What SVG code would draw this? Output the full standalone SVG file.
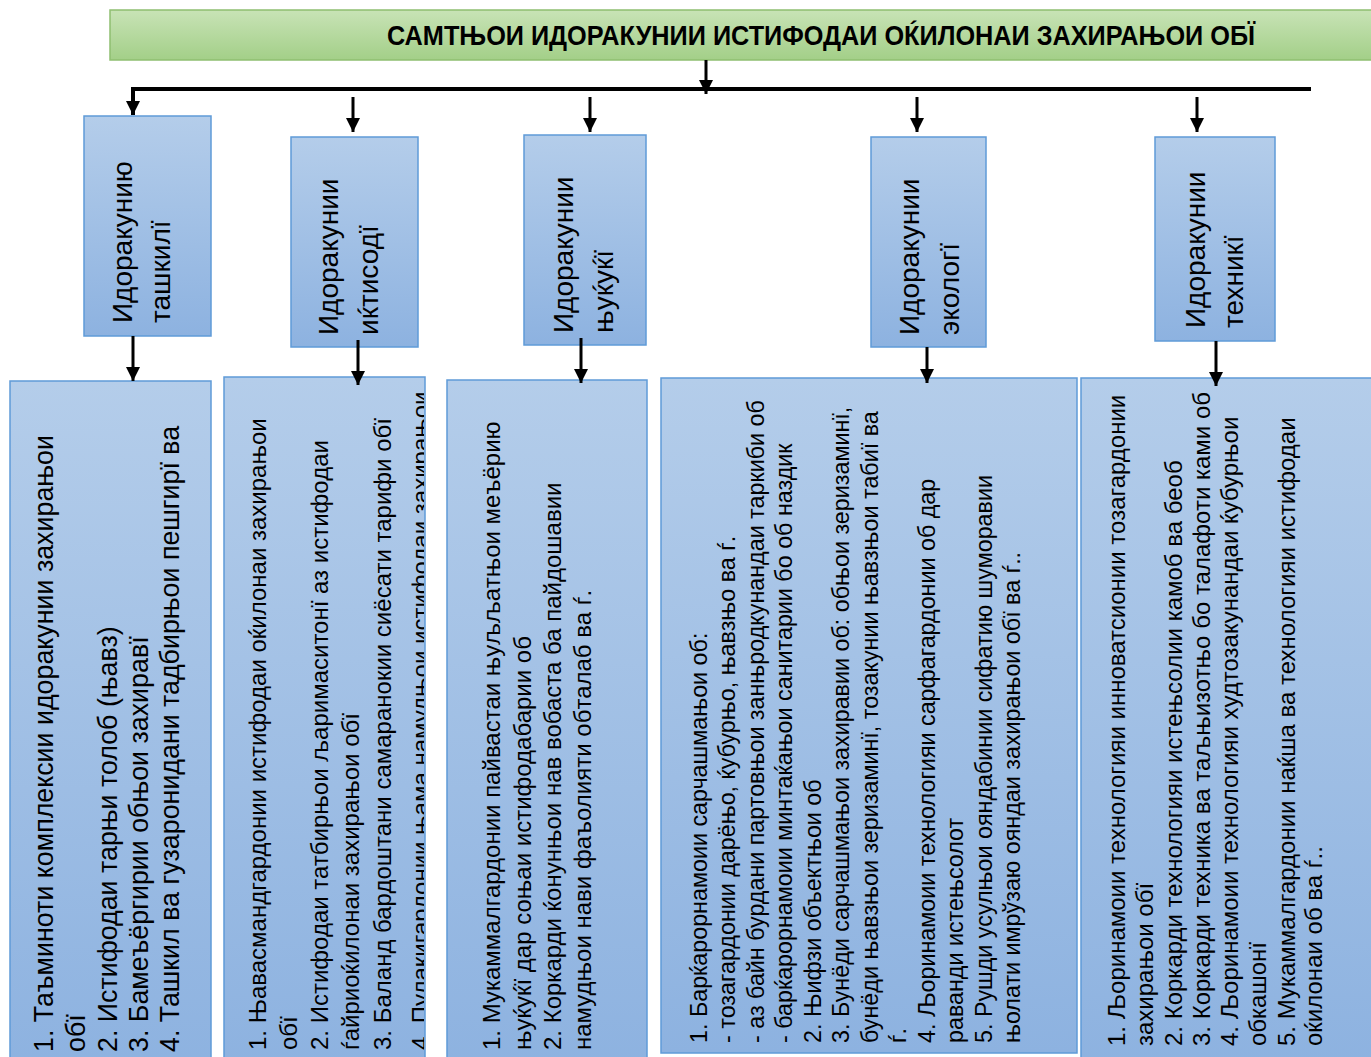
<svg xmlns="http://www.w3.org/2000/svg" width="1371" height="1057" viewBox="0 0 1371 1057">
<defs>
<linearGradient id="gBlue" x1="0" y1="0" x2="0" y2="1">
<stop offset="0" stop-color="#b4cdea"/>
<stop offset="1" stop-color="#8db2e0"/>
</linearGradient>
<linearGradient id="gGreen" x1="0" y1="0" x2="0" y2="1">
<stop offset="0" stop-color="#c8e3b6"/>
<stop offset="1" stop-color="#a3cf88"/>
</linearGradient>
<marker id="ah" viewBox="0 0 10 10" refX="10" refY="5" markerUnits="userSpaceOnUse" markerWidth="15" markerHeight="14" orient="auto">
<path d="M0,0 L10,5 L0,10 z" fill="#000"/>
</marker>
<clipPath id="clipB2"><rect x="224" y="377" width="200" height="690"/></clipPath>
</defs>
<style>
.box{fill:url(#gBlue);stroke:#5f9bd8;stroke-width:1.5}
.cat{font-family:"Liberation Sans",Arial,sans-serif;font-size:28px;fill:#000}
.txt{font-family:"Liberation Sans",Arial,sans-serif;font-size:24px;fill:#000}
.t1{font-size:26.8px}
.t4{font-size:23.3px}
.conn{stroke:#000;stroke-width:3;fill:none}
</style>
<rect width="1371" height="1057" fill="#fff"/>

<g id="title">
<rect x="110" y="10" width="1270" height="50" fill="url(#gGreen)" stroke="#8fbf70" stroke-width="1.5"/>
<text x="387" y="45" font-family="Liberation Sans,Arial,sans-serif" font-weight="bold" font-size="27" textLength="868" lengthAdjust="spacingAndGlyphs">САМТЊОИ ИДОРАКУНИИ ИСТИФОДАИ ОЌИЛОНАИ ЗАХИРАЊОИ ОБЇ</text>
</g>

<g id="connectors">
<line class="conn" x1="706" y1="60" x2="706" y2="94" marker-end="url(#ah)"/>
<polyline class="conn" points="1311,89 133,89 133,115" style="stroke-width:4" marker-end="url(#ah)"/>
<line class="conn" x1="353" y1="97" x2="353" y2="132" marker-end="url(#ah)"/>
<line class="conn" x1="590" y1="97" x2="590" y2="132" marker-end="url(#ah)"/>
<line class="conn" x1="917" y1="97" x2="917" y2="132" marker-end="url(#ah)"/>
<line class="conn" x1="1197" y1="97" x2="1197" y2="132" marker-end="url(#ah)"/>
</g>

<g id="cat1">
<rect class="box" x="84" y="116" width="127" height="220"/>
<text class="cat" transform="translate(132,323) rotate(-90)">Идоракунию</text>
<text class="cat" transform="translate(170,323) rotate(-90)">ташкилї</text>
</g>
<g id="cat2">
<rect class="box" x="291" y="137" width="127" height="210"/>
<text class="cat" transform="translate(338,335) rotate(-90)">Идоракунии</text>
<text class="cat" transform="translate(378,335) rotate(-90)">иќтисодї</text>
</g>
<g id="cat3">
<rect class="box" x="524" y="135" width="122" height="210"/>
<text class="cat" transform="translate(573,333) rotate(-90)">Идоракунии</text>
<text class="cat" transform="translate(613,333) rotate(-90)">њуќуќї</text>
</g>
<g id="cat4">
<rect class="box" x="871" y="137" width="115" height="210"/>
<text class="cat" transform="translate(919,335) rotate(-90)">Идоракунии</text>
<text class="cat" transform="translate(959,335) rotate(-90)">экологї</text>
</g>
<g id="cat5">
<rect class="box" x="1155" y="137" width="120" height="204"/>
<text class="cat" transform="translate(1205,328) rotate(-90)">Идоракунии</text>
<text class="cat" transform="translate(1243,328) rotate(-90)">техникї</text>
</g>

<g id="list1">
<rect class="box" x="10" y="381" width="201" height="690"/>
<text class="txt t1" transform="translate(53,1052) rotate(-90)">1. Таъминоти комплексии идоракунии захирањои</text>
<text class="txt t1" transform="translate(85,1052) rotate(-90)">обї</text>
<text class="txt t1" transform="translate(117,1052) rotate(-90)">2. Истифодаи тарњи толоб (њавз)</text>
<text class="txt t1" transform="translate(148,1052) rotate(-90)">3. Бамеъёргирии обњои захиравї</text>
<text class="txt t1" transform="translate(179,1052) rotate(-90)">4. Ташкил ва гузаронидани тадбирњои пешгирї ва</text>
</g>

<g id="list2">
<rect class="box" x="224" y="377" width="201" height="690"/>
<g clip-path="url(#clipB2)">
<text class="txt" transform="translate(266,1050) rotate(-90)">1. Њавасмандгардонии истифодаи оќилонаи захирањои</text>
<text class="txt" transform="translate(297,1050) rotate(-90)">обї</text>
<text class="txt" transform="translate(328,1050) rotate(-90)">2. Истифодаи татбирњои љаримаситонї аз истифодаи</text>
<text class="txt" transform="translate(359,1050) rotate(-90)">ѓайриоќилонаи захирањои обї</text>
<text class="txt" transform="translate(391,1050) rotate(-90)">3. Баланд бардоштани самаранокии сиёсати тарифи обї</text>
<text class="txt" transform="translate(429,1050) rotate(-90)">4. Пулакигардонии њама намудњои истифодаи захирањои</text>
</g>
</g>

<g id="list3">
<rect class="box" x="447" y="380" width="200" height="690"/>
<text class="txt" transform="translate(500,1050) rotate(-90)">1. Мукаммалгардонии пайвастаи њуљљатњои меъёрию</text>
<text class="txt" transform="translate(531,1050) rotate(-90)">њуќуќї дар соњаи истифодабарии об</text>
<text class="txt" transform="translate(561,1050) rotate(-90)">2. Коркарди ќонунњои нав вобаста ба пайдошавии</text>
<text class="txt" transform="translate(591,1050) rotate(-90)">намудњои нави фаъолияти обталаб ва ѓ.</text>
</g>

<g id="list4">
<rect class="box" x="661" y="378" width="416" height="675"/>
<text class="txt t4" transform="translate(707,1043) rotate(-90)">1. Барќарорнамоии сарчашмањои об:</text>
<text class="txt t4" transform="translate(735,1043) rotate(-90)">- тозагардонии дарёњо, ќубурњо, њавзњо ва ѓ.</text>
<text class="txt t4" transform="translate(764,1043) rotate(-90)">- аз байн бурдани партовњои занњродкунандаи таркиби об</text>
<text class="txt t4" transform="translate(792,1043) rotate(-90)">- барќарорнамоии минтаќањои санитарии бо об наздик</text>
<text class="txt t4" transform="translate(821,1043) rotate(-90)">2. Њифзи объектњои об</text>
<text class="txt t4" transform="translate(849,1043) rotate(-90)">3. Бунёди сарчашмањои захиравии об: обњои зеризаминї,</text>
<text class="txt t4" transform="translate(878,1043) rotate(-90)">бунёди њавзњои зеризаминї, тозакунии њавзњои табиї ва</text>
<text class="txt t4" transform="translate(906,1043) rotate(-90)">ѓ.</text>
<text class="txt t4" transform="translate(935,1043) rotate(-90)">4. Љоринамоии технологияи сарфагардонии об дар</text>
<text class="txt t4" transform="translate(963,1043) rotate(-90)">раванди истењсолот</text>
<text class="txt t4" transform="translate(992,1043) rotate(-90)">5. Рушди усулњои ояндабинии сифатию шуморавии</text>
<text class="txt t4" transform="translate(1020,1043) rotate(-90)">њолати имрўзаю ояндаи захирањои обї ва ѓ..</text>
</g>

<g id="list5">
<rect class="box" x="1081" y="378" width="300" height="690"/>
<text class="txt" transform="translate(1125,1046) rotate(-90)">1. Љоринамоии технологияи инноватсионии тозагардонии</text>
<text class="txt" transform="translate(1153,1046) rotate(-90)">захирањои обї</text>
<text class="txt" transform="translate(1182,1046) rotate(-90)">2. Коркарди технологияи истењсолии камоб ва беоб</text>
<text class="txt" transform="translate(1210,1046) rotate(-90)">3. Коркарди техника ва таљњизотњо бо талафоти ками об</text>
<text class="txt" transform="translate(1238,1046) rotate(-90)">4. Љоринамоии технологияи худтозакунандаи ќубурњои</text>
<text class="txt" transform="translate(1266,1046) rotate(-90)">обкашонї</text>
<text class="txt" transform="translate(1295,1046) rotate(-90)">5. Мукаммалгардонии наќша ва технологияи истифодаи</text>
<text class="txt" transform="translate(1322,1046) rotate(-90)">оќилонаи об ва ѓ..</text>
</g>

<g id="connectors-lower">
<line class="conn" x1="133" y1="336" x2="133" y2="381" marker-end="url(#ah)"/>
<line class="conn" x1="358" y1="340" x2="358" y2="385" marker-end="url(#ah)"/>
<line class="conn" x1="581" y1="338" x2="581" y2="383" marker-end="url(#ah)"/>
<line class="conn" x1="927" y1="347" x2="927" y2="383" marker-end="url(#ah)"/>
<line class="conn" x1="1216" y1="341" x2="1216" y2="386" marker-end="url(#ah)"/>
</g>
</svg>
